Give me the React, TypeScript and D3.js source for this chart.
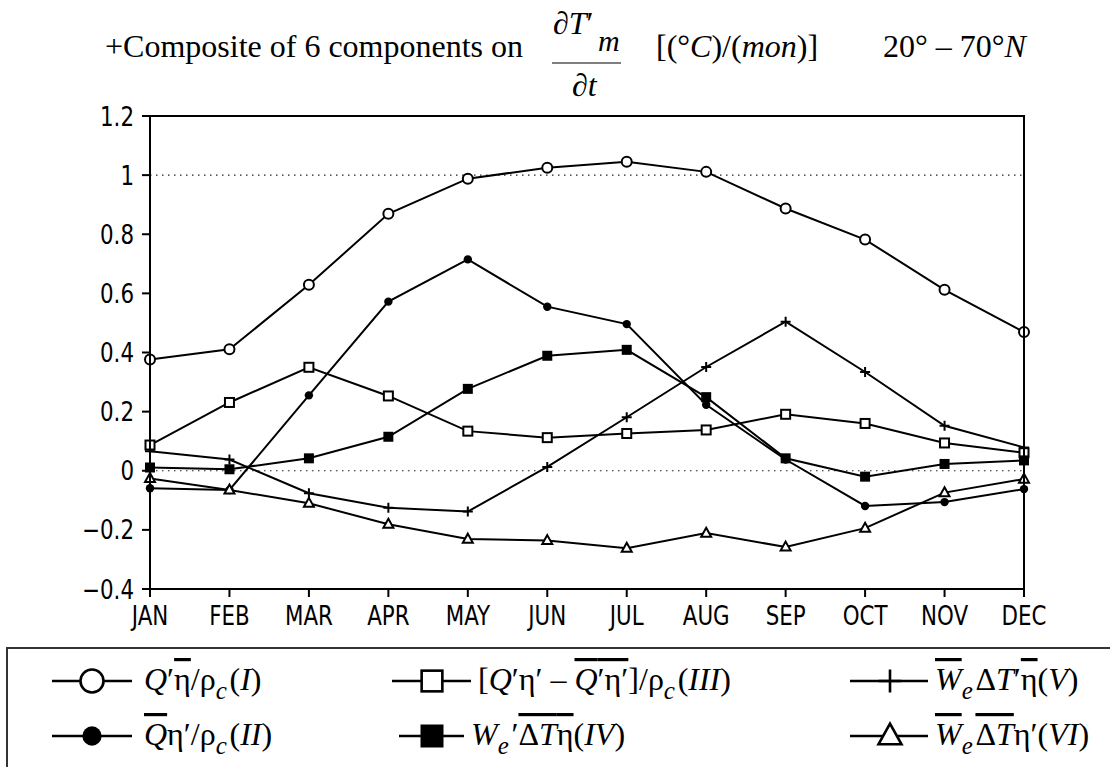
import React from 'react';
import * as d3 from 'd3';

const months = ['JAN', 'FEB', 'MAR', 'APR', 'MAY', 'JUN', 'JUL', 'AUG', 'SEP', 'OCT', 'NOV', 'DEC'];
const yTicks = [-0.4, -0.2, 0, 0.2, 0.4, 0.6, 0.8, 1, 1.2];
const dottedLevels = [0, 1];

// six components
const comp1 = [0.376, 0.411, 0.629, 0.869, 0.988, 1.025, 1.045, 1.011, 0.887, 0.782, 0.612, 0.469];
const comp2 = [-0.059, -0.065, 0.255, 0.572, 0.715, 0.555, 0.496, 0.223, 0.038, -0.119, -0.106, -0.062];
const comp3 = [0.087, 0.231, 0.35, 0.253, 0.134, 0.112, 0.126, 0.138, 0.191, 0.16, 0.094, 0.061];
const comp4 = [0.011, 0.005, 0.042, 0.115, 0.277, 0.389, 0.409, 0.249, 0.042, -0.02, 0.023, 0.035];
const comp5 = [0.066, 0.038, -0.076, -0.125, -0.138, 0.013, 0.181, 0.351, 0.504, 0.334, 0.152, 0.079];
const comp6 = [-0.026, -0.065, -0.11, -0.181, -0.231, -0.236, -0.262, -0.211, -0.258, -0.194, -0.074, -0.028];

const series = [
  { values: comp1, marker: 'openCircle' },
  { values: comp2, marker: 'dot' },
  { values: comp3, marker: 'openSquare' },
  { values: comp4, marker: 'filledSquare' },
  { values: comp5, marker: 'plus' },
  { values: comp6, marker: 'triangle' },
];

const serif = '"Liberation Serif", "DejaVu Serif", serif';
const tickFont = '"DejaVu Sans Condensed", "Liberation Sans Narrow", "DejaVu Sans", sans-serif';

function Marker({ type, x, y, s = 1 }) {
  const sw = 2 * Math.min(s, 1.3);
  switch (type) {
    case 'openCircle':
      return <circle cx={x} cy={y} r={5 * s} fill="#fff" stroke="#000" strokeWidth={sw} />;
    case 'dot':
      return <circle cx={x} cy={y} r={4.2 * s} fill="#000" />;
    case 'openSquare':
      return <rect x={x - 4.5 * s} y={y - 4.5 * s} width={9 * s} height={9 * s} fill="#fff" stroke="#000" strokeWidth={sw} />;
    case 'filledSquare':
      return <rect x={x - 5 * s} y={y - 5 * s} width={10 * s} height={10 * s} fill="#000" />;
    case 'plus':
      return (
        <path d={`M${x - 5 * s},${y}H${x + 5 * s}M${x},${y - 5 * s}V${y + 5 * s}`} stroke="#000" strokeWidth={sw} />
      );
    case 'triangle': {
      const h = 9 * s;
      return (
        <path
          d={`M${x},${y - h * 0.6}L${x + 5 * s},${y + h * 0.4}L${x - 5 * s},${y + h * 0.4}Z`}
          fill="#fff"
          stroke="#000"
          strokeWidth={sw}
        />
      );
    }
    default:
      return null;
  }
}

const it = { fontStyle: 'italic' };
const ov = { textDecoration: 'overline' };

function Sub({ children }) {
  return (
    <>
      <tspan dy={9} fontSize={25} style={it}>{children}</tspan>
      <tspan dy={-9}>{'\u200a'}</tspan>
    </>
  );
}

const legendLabels = [
  // row 1
  <>
    <tspan style={it}>Q</tspan>′<tspan style={ov}>η</tspan>/ρ<Sub>c</Sub>(<tspan style={it}>I</tspan>)
  </>,
  <>
    [<tspan style={it}>Q</tspan>′η′ – <tspan style={ov}><tspan style={it}>Q</tspan>′η′</tspan>]/ρ<Sub>c</Sub>(<tspan style={it}>III</tspan>)
  </>,
  <>
    <tspan style={{ ...it, ...ov }}>W</tspan><Sub>e</Sub>Δ<tspan style={it}>T</tspan>′<tspan style={ov}>η</tspan>(<tspan style={it}>V</tspan>)
  </>,
  // row 2
  <>
    <tspan style={{ ...it, ...ov }}>Q</tspan>η′/ρ<Sub>c</Sub>(<tspan style={it}>II</tspan>)
  </>,
  <>
    <tspan style={it}>W</tspan><Sub>e</Sub>′<tspan style={ov}>Δ<tspan style={it}>T</tspan></tspan><tspan style={ov}>η</tspan>(<tspan style={it}>IV</tspan>)
  </>,
  <>
    <tspan style={{ ...it, ...ov }}>W</tspan><Sub>e</Sub><tspan style={ov}>Δ<tspan style={it}>T</tspan></tspan>η′(<tspan style={it}>VI</tspan>)
  </>,
];

// legend grid: series index -> line span, marker centre, text start
const legendItems = [
  { s: 0, x0: 52, x1: 132, mx: 92, tx: 144, row: 0 },
  { s: 2, x0: 392, x1: 471, mx: 432, tx: 478, row: 0 },
  { s: 4, x0: 850, x1: 928, mx: 890, tx: 935, row: 0 },
  { s: 1, x0: 52, x1: 132, mx: 92, tx: 144, row: 1 },
  { s: 3, x0: 399, x1: 464, mx: 432, tx: 471, row: 1 },
  { s: 5, x0: 850, x1: 928, mx: 890, tx: 935, row: 1 },
];
const legendRows = [681, 736];

export default function App() {
  const width = 1110;
  const height = 767;
  const left = 150;
  const right = 1024;
  const top = 116;
  const bottom = 589;

  const x = d3.scalePoint().domain(months).range([left, right]);
  const y = d3.scaleLinear().domain([-0.4, 1.2]).range([bottom, top]);

  const line = d3
    .line()
    .x((d, i) => x(months[i]))
    .y((d) => y(d));

  return (
    <svg
      width={width}
      height={height}
      style={{ position: 'absolute', left: 0, top: 0, background: '#fff' }}
    >
      {/* title */}
      <g fontFamily={serif} fill="#000">
        <text x={105} y={57} fontSize={32}>+Composite of 6 components on</text>
        <text x={553} y={34} fontSize={32}>∂<tspan style={it}>T</tspan>′</text>
        <text x={598} y={51} fontSize={30} style={it}>m</text>
        <line x1={552} x2={621} y1={63} y2={63} stroke="#000" strokeWidth={1.2} />
        <text x={572} y={96} fontSize={32}>∂<tspan style={it}>t</tspan></text>
        <text x={656} y={57} fontSize={32}>
          [(°<tspan style={it}>C</tspan>)/(<tspan style={it}>mon</tspan>)]
        </text>
        <text x={883} y={57} fontSize={32}>
          20° – 70°<tspan style={it}>N</tspan>
        </text>
      </g>

      {/* dotted reference lines */}
      {dottedLevels.map((v) => (
        <line
          key={v}
          x1={left}
          x2={right}
          y1={y(v)}
          y2={y(v)}
          stroke="#222"
          strokeWidth={1.2}
          strokeDasharray="1.5,4.5"
        />
      ))}

      {/* series lines */}
      {series.map((s, i) => (
        <path key={i} d={line(s.values)} fill="none" stroke="#000" strokeWidth={2} />
      ))}
      {series.map((s, i) =>
        s.values.map((v, j) => <Marker key={`${i}-${j}`} type={s.marker} x={x(months[j])} y={y(v)} />)
      )}

      {/* frame */}
      <rect x={left} y={top} width={right - left} height={bottom - top} fill="none" stroke="#000" strokeWidth={2} />

      {/* y axis */}
      <g fontFamily={tickFont} fontSize={27} fill="#000">
        {yTicks.map((t) => (
          <g key={t}>
            <line x1={left - 8} x2={left} y1={y(t)} y2={y(t)} stroke="#000" strokeWidth={2} />
            <g transform={`translate(${left - 16},${y(t)}) scale(0.88,1)`}>
              <text textAnchor="end" dominantBaseline="central">
                {t < 0 ? `\u2212${Math.abs(t)}` : `${t}`}
              </text>
            </g>
          </g>
        ))}
      </g>

      {/* x axis */}
      <g fontFamily={tickFont} fontSize={27} fill="#000">
        {months.map((m) => (
          <g key={m}>
            <line x1={x(m)} x2={x(m)} y1={bottom} y2={bottom + 8} stroke="#000" strokeWidth={2} />
            <g transform={`translate(${x(m)},625) scale(0.88,1)`}>
              <text textAnchor="middle">{m}</text>
            </g>
          </g>
        ))}
      </g>

      {/* legend */}
      <rect x={7} y={648} width={1200} height={200} fill="none" stroke="#333" strokeWidth={2} />
      {legendItems.map((d, i) => {
        const ly = legendRows[d.row];
        return (
          <g key={i}>
            <line x1={d.x0} x2={d.x1} y1={ly} y2={ly} stroke="#000" strokeWidth={2.5} />
            <Marker type={series[d.s].marker} x={d.mx} y={ly} s={2.3} />
            <text x={d.tx} y={ly + 9} fontFamily={serif} fontSize={32} fill="#000">
              {legendLabels[i]}
            </text>
          </g>
        );
      })}
    </svg>
  );
}
